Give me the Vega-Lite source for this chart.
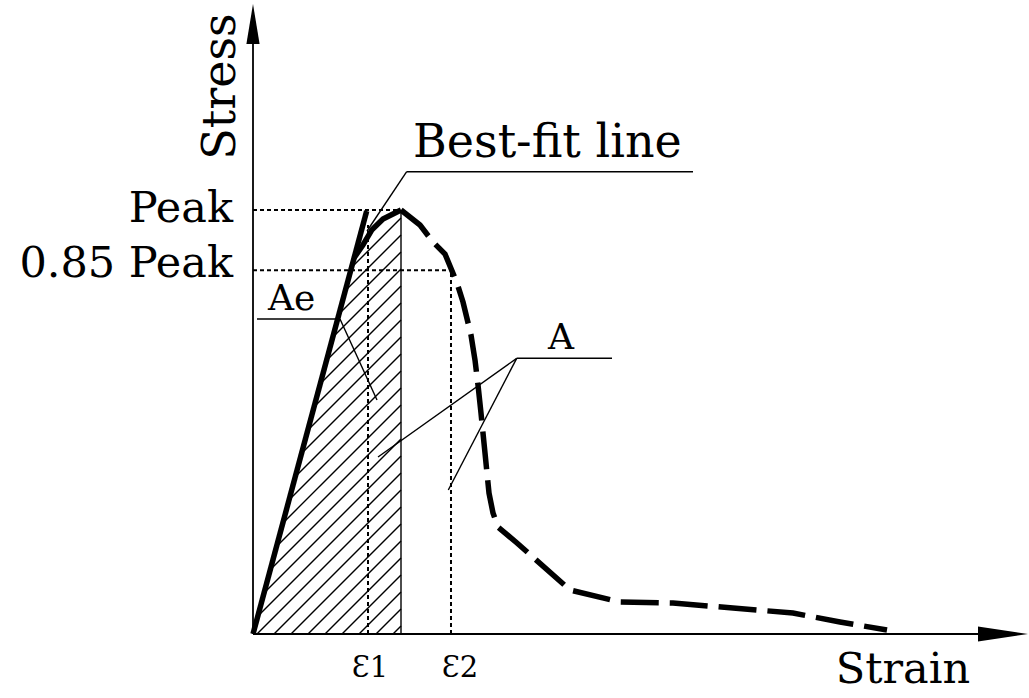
{
  "$schema": "https://vega.github.io/schema/vega-lite/v6.json",
  "width": 1029,
  "height": 698,
  "padding": 0,
  "autosize": "none",
  "background": "white",
  "config": {"view": {"stroke": null}},
  "datasets": {
    "segments": [
      {"kind": "hatch", "x": 0.6656, "y": 0.8644, "x2": 1, "y2": 0.9811},
      {"kind": "hatch", "x": 0.6234, "y": 0.8096, "x2": 1, "y2": 0.9410},
      {"kind": "hatch", "x": 0.5811, "y": 0.7547, "x2": 1, "y2": 0.9009},
      {"kind": "hatch", "x": 0.5389, "y": 0.6999, "x2": 1, "y2": 0.8608},
      {"kind": "hatch", "x": 0.4967, "y": 0.6451, "x2": 1, "y2": 0.8208},
      {"kind": "hatch", "x": 0.4545, "y": 0.5903, "x2": 1, "y2": 0.7807},
      {"kind": "hatch", "x": 0.4123, "y": 0.5354, "x2": 1, "y2": 0.7406},
      {"kind": "hatch", "x": 0.3701, "y": 0.4806, "x2": 1, "y2": 0.7005},
      {"kind": "hatch", "x": 0.3278, "y": 0.4258, "x2": 1, "y2": 0.6604},
      {"kind": "hatch", "x": 0.2856, "y": 0.3709, "x2": 1, "y2": 0.6203},
      {"kind": "hatch", "x": 0.2434, "y": 0.3161, "x2": 1, "y2": 0.5802},
      {"kind": "hatch", "x": 0.2011, "y": 0.2613, "x2": 1, "y2": 0.5401},
      {"kind": "hatch", "x": 0.1589, "y": 0.2064, "x2": 1, "y2": 0.5000},
      {"kind": "hatch", "x": 0.1167, "y": 0.1516, "x2": 1, "y2": 0.4599},
      {"kind": "hatch", "x": 0.0745, "y": 0.0968, "x2": 1, "y2": 0.4198},
      {"kind": "hatch", "x": 0.0323, "y": 0.0419, "x2": 1, "y2": 0.3797},
      {"kind": "hatch", "x": 0.0270, "y": 0, "x2": 1, "y2": 0.3396},
      {"kind": "hatch", "x": 0.1419, "y": 0, "x2": 1, "y2": 0.2995},
      {"kind": "hatch", "x": 0.2568, "y": 0, "x2": 1, "y2": 0.2594},
      {"kind": "hatch", "x": 0.3716, "y": 0, "x2": 1, "y2": 0.2193},
      {"kind": "hatch", "x": 0.4865, "y": 0, "x2": 1, "y2": 0.1792},
      {"kind": "hatch", "x": 0.6014, "y": 0, "x2": 1, "y2": 0.1392},
      {"kind": "hatch", "x": 0.7162, "y": 0, "x2": 1, "y2": 0.0991},
      {"kind": "hatch", "x": 0.8311, "y": 0, "x2": 1, "y2": 0.0590},
      {"kind": "hatch", "x": 0.9459, "y": 0, "x2": 1, "y2": 0.0189},
      {"kind": "edge", "x": 1, "y": 0, "x2": 1, "y2": 1},
      {"kind": "dotted", "x": 0, "y": 1, "x2": 0.98, "y2": 1},
      {"kind": "dotted", "x": 0, "y": 0.858, "x2": 1.3378, "y2": 0.858},
      {"kind": "dotted", "x": 0.777, "y": 0, "x2": 0.777, "y2": 0.9646},
      {"kind": "dotted", "x": 1.3378, "y": 0, "x2": 1.3378, "y2": 0.858},
      {"kind": "leader", "x": 2.9730, "y": 1.0903, "x2": 1.0385, "y2": 1.0903},
      {"kind": "leader", "x": 1.0385, "y": 1.0903, "x2": 0.7703, "y2": 0.9505},
      {"kind": "leader", "x": 0.0270, "y": 0.7429, "x2": 0.5878, "y2": 0.7429},
      {"kind": "leader", "x": 0.5878, "y": 0.7429, "x2": 0.8378, "y2": 0.5519},
      {"kind": "leader", "x": 2.4257, "y": 0.6502, "x2": 1.7818, "y2": 0.6502},
      {"kind": "leader", "x": 1.7818, "y": 0.6502, "x2": 0.8446, "y2": 0.4175},
      {"kind": "leader", "x": 1.7818, "y": 0.6502, "x2": 1.3196, "y2": 0.3396},
      {"kind": "axis", "x": 0, "y": 0, "x2": 0, "y2": 1.4245},
      {"kind": "axis", "x": 0, "y": 0, "x2": 4.9797, "y2": 0},
      {"kind": "bestfit", "x": 0, "y": 0, "x2": 0.7682, "y2": 0.9976}
    ],
    "rise": [
      {"x": 0.6824, "y": 0.8868},
      {"x": 0.7432, "y": 0.9175},
      {"x": 0.8020, "y": 0.9528},
      {"x": 0.8784, "y": 0.9788},
      {"x": 1.0, "y": 1.0}
    ],
    "fall": [
      {"x": 1.0, "y": 1.0},
      {"x": 1.1284, "y": 0.9646},
      {"x": 1.2162, "y": 0.9245},
      {"x": 1.2973, "y": 0.8962},
      {"x": 1.3784, "y": 0.8278},
      {"x": 1.4189, "y": 0.7830},
      {"x": 1.4730, "y": 0.7052},
      {"x": 1.5000, "y": 0.6462},
      {"x": 1.5203, "y": 0.5873},
      {"x": 1.5405, "y": 0.5212},
      {"x": 1.5676, "y": 0.4269},
      {"x": 1.5946, "y": 0.3325},
      {"x": 1.6216, "y": 0.2854},
      {"x": 1.6554, "y": 0.2524},
      {"x": 1.7838, "y": 0.2146},
      {"x": 2.1419, "y": 0.1038},
      {"x": 2.4797, "y": 0.0755},
      {"x": 2.8378, "y": 0.0731},
      {"x": 3.2432, "y": 0.0613},
      {"x": 3.6486, "y": 0.0495},
      {"x": 3.9662, "y": 0.0283},
      {"x": 4.2838, "y": 0.0094}
    ]
  },
  "encoding": {
    "x": {"field": "x", "type": "quantitative", "axis": null, "scale": {"domain": [-1.70946, 5.24324], "nice": false, "zero": false}},
    "y": {"field": "y", "type": "quantitative", "axis": null, "scale": {"domain": [-0.150943, 1.495283], "nice": false, "zero": false}}
  },
  "layer": [
    {
      "data": {"name": "segments"},
      "transform": [{"filter": "datum.kind === 'hatch'"}],
      "mark": {"type": "rule", "color": "black", "strokeWidth": 1.4},
      "encoding": {"x2": {"field": "x2"}, "y2": {"field": "y2"}}
    },
    {
      "data": {"name": "segments"},
      "transform": [{"filter": "datum.kind === 'edge' || datum.kind === 'leader'"}],
      "mark": {"type": "rule", "color": "black", "strokeWidth": 1.4},
      "encoding": {"x2": {"field": "x2"}, "y2": {"field": "y2"}}
    },
    {
      "data": {"name": "segments"},
      "transform": [{"filter": "datum.kind === 'dotted'"}],
      "mark": {"type": "rule", "color": "black", "strokeWidth": 2, "strokeDash": [4, 3]},
      "encoding": {"x2": {"field": "x2"}, "y2": {"field": "y2"}}
    },
    {
      "data": {"name": "segments"},
      "transform": [{"filter": "datum.kind === 'axis'"}],
      "mark": {"type": "rule", "color": "black", "strokeWidth": 1.8},
      "encoding": {"x2": {"field": "x2"}, "y2": {"field": "y2"}}
    },
    {
      "data": {"name": "segments"},
      "transform": [{"filter": "datum.kind === 'bestfit'"}],
      "mark": {"type": "rule", "color": "black", "strokeWidth": 5.5},
      "encoding": {"x2": {"field": "x2"}, "y2": {"field": "y2"}}
    },
    {
      "data": {"name": "rise"},
      "mark": {"type": "line", "color": "black", "strokeWidth": 5.5, "strokeJoin": "round"},
      "encoding": {}
    },
    {
      "data": {"name": "fall"},
      "mark": {"type": "line", "color": "black", "strokeWidth": 5.5, "strokeDash": [38, 11], "strokeCap": "butt"},
      "encoding": {}
    },
    {
      "data": {"values": [{"x": 0, "y": 1.4387}]},
      "mark": {"type": "point", "shape": "M0,-1L0.33,1L-0.33,1Z", "size": 1600, "filled": true, "color": "black", "opacity": 1, "strokeWidth": 0}
    },
    {
      "data": {"values": [{"x": 5.0676, "y": 0}]},
      "mark": {"type": "point", "shape": "M1,0L-1,-0.3L-1,0.3Z", "size": 2500, "filled": true, "color": "black", "opacity": 1, "strokeWidth": 0}
    },
    {
      "data": {"values": [{"x": -0.1216, "y": 1.2913, "label": "Stress"}]},
      "mark": {"type": "text", "font": "DejaVu Serif", "fontSize": 46, "angle": 270, "align": "center", "baseline": "alphabetic", "color": "black"},
      "encoding": {"text": {"field": "label"}}
    },
    {
      "data": {"values": [{"x": -0.1351, "y": 0.9724, "label": "Peak"}, {"x": -0.1351, "y": 0.8427, "label": "0.85 Peak"}]},
      "mark": {"type": "text", "font": "DejaVu Serif", "fontSize": 43, "align": "right", "baseline": "alphabetic", "color": "black"},
      "encoding": {"text": {"field": "label"}}
    },
    {
      "data": {"values": [{"x": 1.0811, "y": 1.1257, "label": "Best-fit line"}]},
      "mark": {"type": "text", "font": "DejaVu Serif", "fontSize": 46, "align": "left", "baseline": "alphabetic", "color": "black"},
      "encoding": {"text": {"field": "label"}}
    },
    {
      "data": {"values": [{"x": 0.1014, "y": 0.7642, "label": "Ae"}]},
      "mark": {"type": "text", "font": "DejaVu Serif", "fontSize": 36, "align": "left", "baseline": "alphabetic", "color": "black"},
      "encoding": {"text": {"field": "label"}}
    },
    {
      "data": {"values": [{"x": 2.0811, "y": 0.6722, "label": "A"}]},
      "mark": {"type": "text", "font": "DejaVu Serif", "fontSize": 36, "align": "center", "baseline": "alphabetic", "color": "black"},
      "encoding": {"text": {"field": "label"}}
    },
    {
      "data": {"values": [{"x": 0.7905, "y": -0.1007, "label": "Ɛ1"}, {"x": 1.3986, "y": -0.1007, "label": "Ɛ2"}]},
      "mark": {"type": "text", "font": "DejaVu Serif", "fontSize": 29, "align": "center", "baseline": "alphabetic", "color": "black"},
      "encoding": {"text": {"field": "label"}}
    },
    {
      "data": {"values": [{"x": 4.3919, "y": -0.1156, "label": "Strain"}]},
      "mark": {"type": "text", "font": "DejaVu Serif", "fontSize": 43, "align": "center", "baseline": "alphabetic", "color": "black"},
      "encoding": {"text": {"field": "label"}}
    }
  ]
}
